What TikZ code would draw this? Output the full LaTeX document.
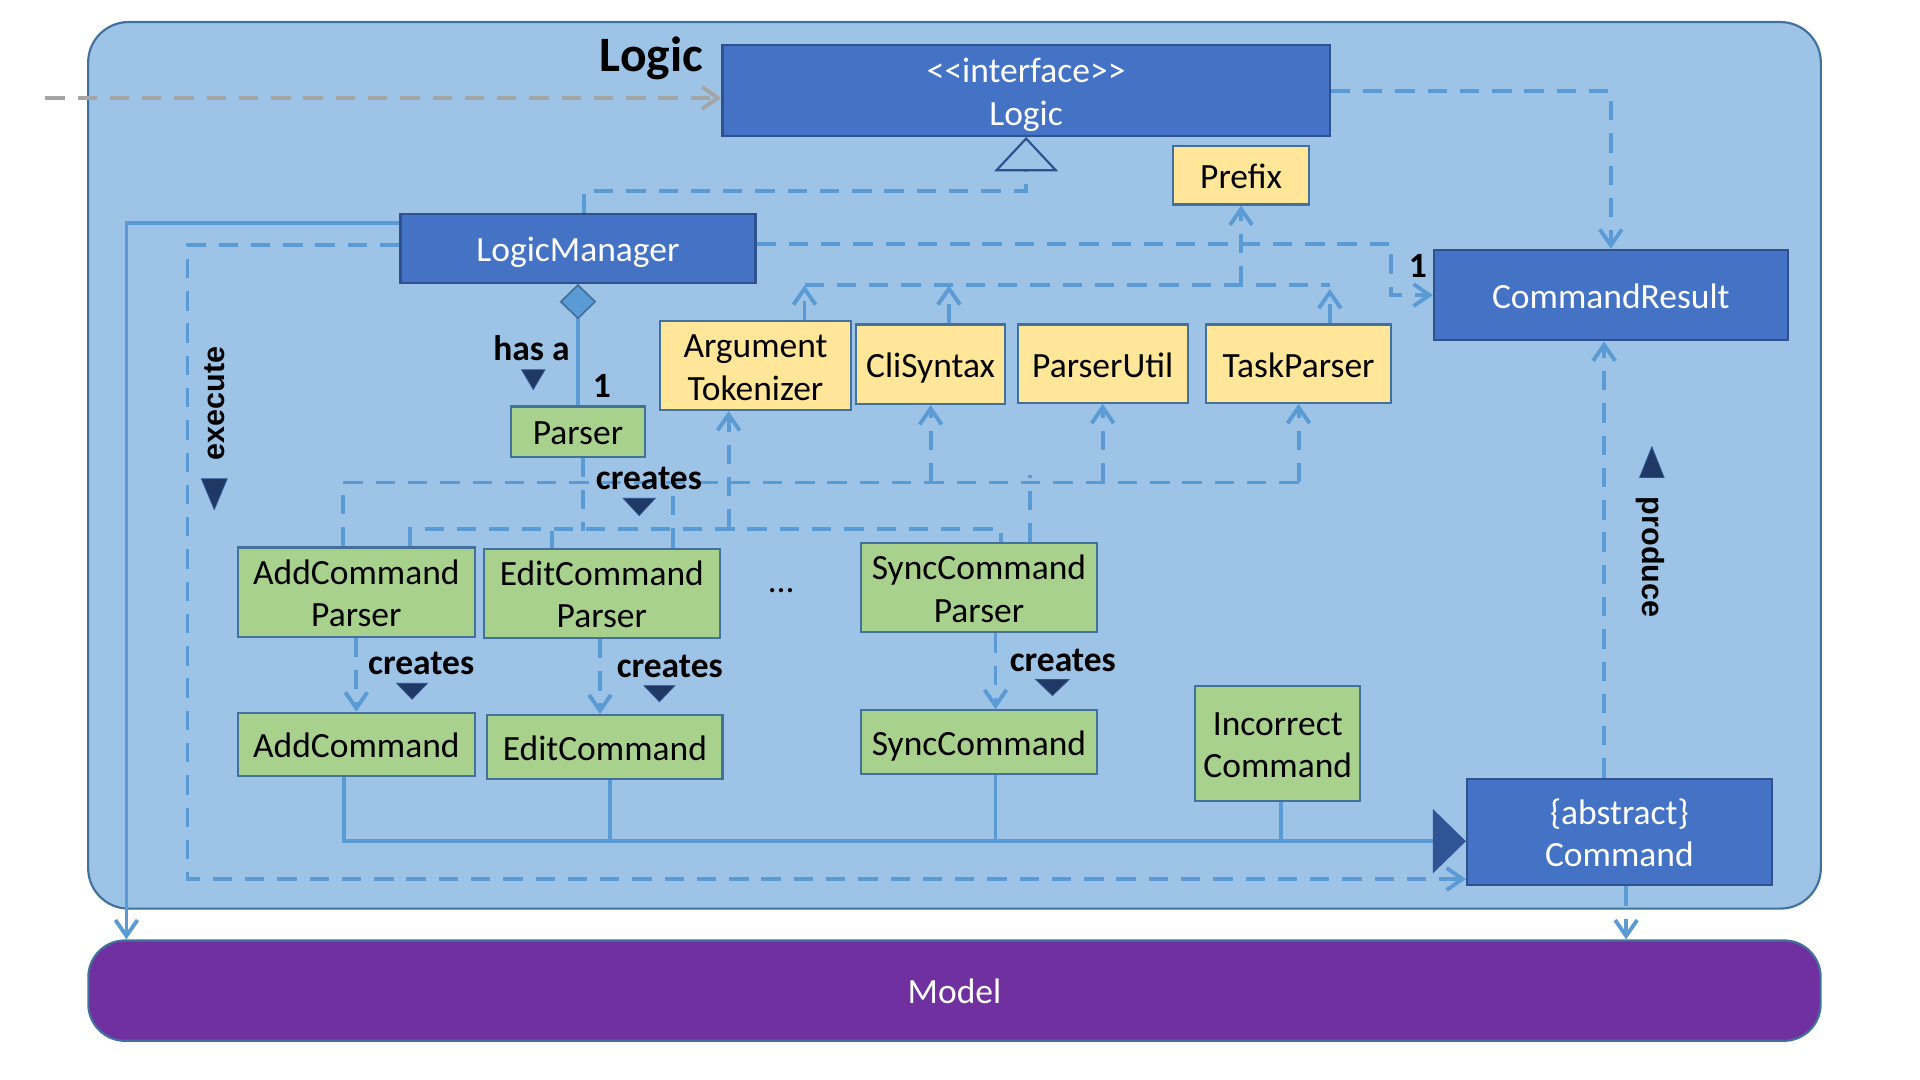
\documentclass[tikz,border=0pt]{standalone}
\usepackage{fontspec}
\setmainfont{Carlito}
\newfontfamily\verbfont{Liberation Sans}
\usetikzlibrary{arrows.meta,calc}

\definecolor{logicbg}{HTML}{9DC3E6}
\definecolor{frame}{HTML}{41719C}
\definecolor{darkframe}{HTML}{2F528F}
\definecolor{umlblue}{HTML}{4472C4}
\definecolor{utilyellow}{HTML}{FFE699}
\definecolor{cmdgreen}{HTML}{A9D18E}
\definecolor{modelpurple}{HTML}{7030A0}
\definecolor{link}{HTML}{5B9BD5}
\definecolor{navy}{HTML}{203864}
\definecolor{genblue}{HTML}{2F5597}
\definecolor{grayline}{HTML}{A5A5A5}

\newcommand\boxfont{\fontsize{16.5}{19.8}\selectfont}
\newcommand\ls{\rule[-3.6pt]{0pt}{19.6pt}}% line strut

\begin{document}
\begin{tikzpicture}[x=0.02cm, y=-0.02cm,
cls/.style = {% class boxes
    draw=frame, line width=1pt, align=center, inner sep=1pt,
    font=\boxfont, execute at begin node=\ls,
            },
iface/.style = {cls, draw=darkframe, fill=umlblue, text=white},
util/.style = {cls, fill=utilyellow},
cmd/.style = {cls, fill=cmdgreen},
dashline/.style = {draw=link, line width=1.8pt, dash pattern=on 9pt off 6pt},
dep/.style = {dashline, -{Straight Barb[length=0.26cm,width=0.36cm]}},
flow/.style = {draw=link, line width=1.8pt},
lbl/.style = {font=\bfseries\boxfont, inner sep=0pt},
verb/.style = {font=\verbfont\bfseries\fontsize{14.2}{17}\selectfont, inner sep=0pt},
pointer/.style = {fill=navy, draw=darkframe, line width=0.4pt},
                        ]

  % frames
  \useasboundingbox (0,0) rectangle (1568,882);
  \draw[draw=frame, fill=logicbg, line width=1pt, rounded corners=0.66cm]
      (72,18) rectangle (1487,742);
  \node[draw=frame, fill=modelpurple, line width=1pt, rounded corners=0.6cm,
      minimum width=28.3cm, minimum height=1.64cm, text=white, font=\boxfont,
      execute at begin node=\ls]
      (model) at (779.5,809) {Model};
  \node[font=\bfseries\fontsize{23}{27}\selectfont, anchor=base]
      (heading) at (532,58) {Logic};

  % classes
  \node[iface, minimum width=9.92cm, minimum height=1.48cm] (logic) at (838,74) {\ls<{}<interface>{}>\\\ls Logic};
  \node[iface, minimum width=5.8cm, minimum height=1.12cm] (manager) at (472,203) {LogicManager};
  \node[iface, minimum width=5.78cm, minimum height=1.48cm] (result) at (1315.5,241) {CommandResult};
  \node[iface, minimum width=4.98cm, minimum height=1.74cm] (command) at (1322.5,679.5) {\ls\{abstract\}\\\ls Command};

  \node[util, minimum width=2.22cm, minimum height=0.96cm] (prefix) at (1013.5,143) {Prefix};
  \node[util, minimum width=3.12cm, minimum height=1.34cm] (tokenizer) at (617,298.5) {\ls Argument\\\ls Tokenizer};
  \node[util, minimum width=2.44cm, minimum height=1.3cm] (clisyntax) at (760,297.5) {CliSyntax};
  \node[util, minimum width=2.78cm, minimum height=1.28cm] (parserutil) at (900.5,297) {ParserUtil};
  \node[util, minimum width=3.02cm, minimum height=1.28cm] (taskparser) at (1060.5,297) {TaskParser};

  \node[cmd, minimum width=2.2cm, minimum height=0.82cm] (parser) at (472,352.5) {Parser};
  \node[cmd, minimum width=3.88cm, minimum height=1.38cm] (addparser) at (291,483.5) {\ls AddCommand\\\ls Parser};
  \node[cmd, minimum width=3.86cm, minimum height=1.38cm] (editparser) at (491.5,484.5) {\ls EditCommand\\\ls Parser};
  \node[cmd, minimum width=3.86cm, minimum height=1.4cm] (syncparser) at (799.5,480) {\ls SyncCommand\\\ls Parser};
  \node[font=\boxfont] (dots) at (638,482) {...};
  \node[cmd, minimum width=3.88cm, minimum height=1.04cm] (addcmd) at (291,608) {AddCommand};
  \node[cmd, minimum width=3.84cm, minimum height=1.04cm] (editcmd) at (494,610) {EditCommand};
  \node[cmd, minimum width=3.86cm, minimum height=1.04cm] (synccmd) at (799.5,606) {SyncCommand};
  \node[cmd, minimum width=2.7cm, minimum height=1.88cm] (incorrect) at (1043.5,607) {\ls Incorrect\\\ls Command};

  % outside caller
  \coordinate (entry) at (37,80);
  \draw[draw=grayline, line width=1.8pt, dash pattern=on 9pt off 6pt,
      -{Straight Barb[length=0.26cm,width=0.36cm]}] (entry) -- (entry -| logic.west);

  % realization and results
  \draw[dashline, -{Triangle[open,length=0.56cm,width=1.04cm,line width=1pt,color=darkframe]}]
      ($(manager.north)+(5,0)$) |- ($(logic.south)+(0,44)$) -- (logic.south);
  \draw[dep] (logic.east) -| (result.north);
  \draw[dep] ($(manager.east)+(0,-4)$) -| ($(result.west)+(-34,0)$) -- (result.west);
  \draw[dep] ($(manager.west)+(0,-3)$) -| ($(command.south west)+(-1044,-6)$)
      -- ($(command.south west)+(0,-6)$);
  \draw[flow, -{Straight Barb[length=0.26cm,width=0.36cm]}]
      ($(manager.north west)+(0,8)$) -| ($(model.north west)+(32,0)$);
  \draw[dep] ($(command.south)+(5.5,0)$) coordinate (c2) -- (c2 |- model.north);
  \draw[dep] ($(command.north)+(-12.5,0)$) coordinate (c3) -- (c3 |- result.south);

  % has a
  \draw[flow, {Diamond[length=0.58cm,width=0.6cm,fill=link,color=frame,line width=0.8pt]}-]
      (manager.south) -- (parser.north);

  % prefix bus
  \coordinate (tbus) at (0,233);
  \draw[dep] ($(tokenizer.north)+(40,0)$) coordinate (t1) -- (t1 |- tbus);
  \draw[dep] ($(clisyntax.north)+(15,0)$) coordinate (k2) -- (k2 |- tbus);
  \draw[dep] ($(taskparser.north)+(25.5,0)$) coordinate (k1) -- ($(k1 |- tbus)+(0,3)$);
  \draw[dashline] (t1 |- tbus) -- (k1 |- tbus);
  \draw[dep] (prefix.south |- tbus) -- (prefix.south);

  % utilities bus
  \coordinate (ubus) at (0,394);
  \draw[dashline] ($(addparser.north)+(-11,0)$) |- (ubus -| taskparser.south);
  \draw[dep] (ubus -| taskparser.south) -- (taskparser.south);
  \draw[dep] (ubus -| parserutil.south) -- (parserutil.south);
  \draw[dep] (ubus -| clisyntax.south) -- (clisyntax.south);
  \draw[dep] ($(tokenizer.south)+(-22,96)$) coordinate (u1) -- (u1 |- tokenizer.south);
  \draw[dashline] ($(editparser.north)+(58,0)$) coordinate (e1) -- (e1 |- ubus);
  \draw[dashline] ($(syncparser.north)+(42,0)$) coordinate (s1) -- ($(s1 |- ubus)+(0,-6)$);

  % parser bus
  \coordinate (pbus) at (0,434);
  \draw[dashline] ($(parser.south)+(4,0)$) coordinate (p1) -- (p1 |- pbus);
  \draw[dashline] ($(addparser.north)+(44,0)$) |- ($(syncparser.north)+(18,-11)$)
      -- ($(syncparser.north)+(18,0)$);
  \draw[dashline] ($(editparser.north)+(-41,0)$) coordinate (e2) -- (e2 |- pbus);

  % creates
  \draw[dep] (addparser.south) -- (addcmd.north);
  \draw[dep] ($(editparser.south)+(-1.5,0)$) coordinate (e3) -- (e3 |- editcmd.north);
  \draw[dep] ($(syncparser.south)+(13.5,0)$) coordinate (s3) -- (s3 |- synccmd.north);

  % generalization
  \coordinate (gen) at ($(command.west)+(0,7.5)$);
  \draw[flow, -{Triangle[length=0.54cm,width=1.04cm,color=genblue]}]
      ($(addcmd.south)+(-10,0)$) |- (gen);
  \draw[flow] ($(editcmd.south)+(4,0)$) coordinate (e4) -- (e4 |- gen);
  \draw[flow] ($(synccmd.south)+(13.5,0)$) coordinate (s4) -- (s4 |- gen);
  \draw[flow] ($(incorrect.south)+(2.5,0)$) coordinate (i4) -- (i4 |- gen);

  % labels
  \node[lbl, anchor=base] (hasa) at (434,294) {has a};
  \node[lbl, anchor=base] (one1) at (491.5,325) {1};
  \node[lbl, anchor=base] (one2) at (1158,227) {1};
  \node[lbl, anchor=base] (creates1) at (530,400) {creates};
  \node[lbl, anchor=base] (creates2) at (344,551) {creates};
  \node[lbl, anchor=base] (creates3) at (547,553) {creates};
  \node[lbl, anchor=base] (creates4) at (868,548) {creates};
  \node[verb, rotate=90] (execute) at (175,329.5) {execute};
  \node[verb, rotate=-90] (produce) at (1348,455) {produce};

  \filldraw[pointer] (509,407) -- (535,407) -- (522,421) -- cycle;
  \filldraw[pointer] (324,558) -- (349,558) -- (336.5,571) -- cycle;
  \filldraw[pointer] (526,560) -- (551,560) -- (538.5,573) -- cycle;
  \filldraw[pointer] (846,555) -- (873,555) -- (859.5,568) -- cycle;
  \filldraw[pointer] (426,302) -- (445,302) -- (435.5,318) -- cycle;
  \filldraw[pointer] (164.5,391) -- (185.5,391) -- (175,416) -- cycle;
  \filldraw[pointer] (1339,390) -- (1359,390) -- (1349,365) -- cycle;

\end{tikzpicture}
\end{document}
